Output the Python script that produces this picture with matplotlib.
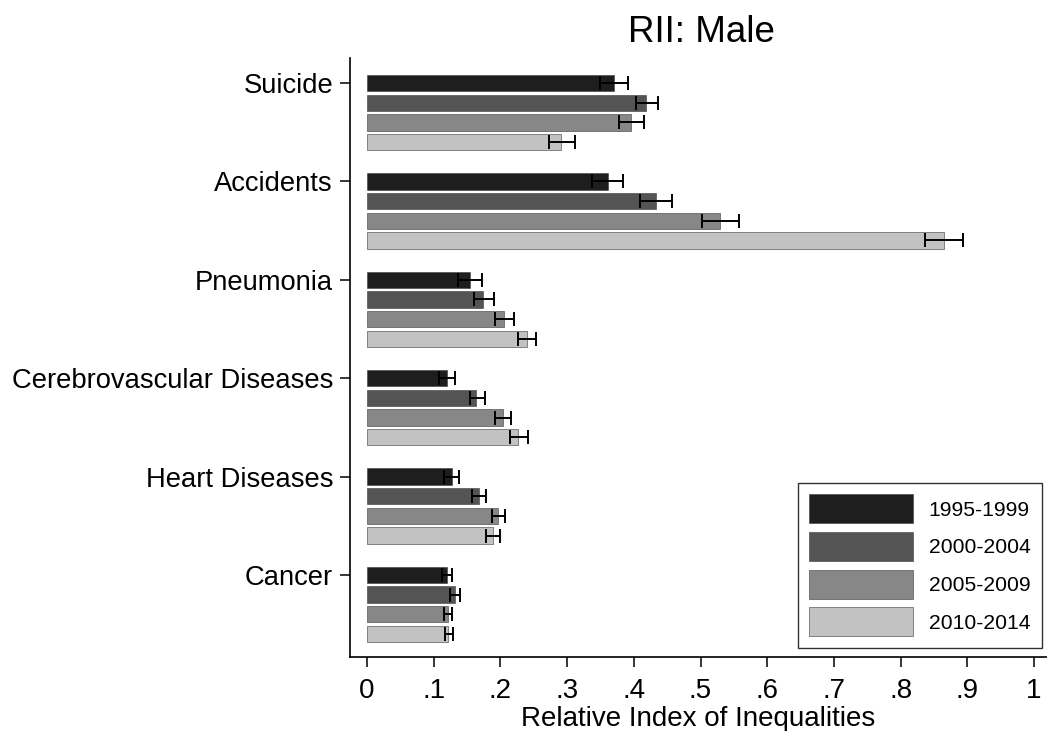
import numpy as np
import matplotlib
matplotlib.use('Agg')
import matplotlib.pyplot as plt

# causas e periodos
causes = ['Suicide', 'Accidents', 'Pneumonia', 'Cerebrovascular Diseases',
          'Heart Diseases', 'Cancer']
periods = ['1995-1999', '2000-2004', '2005-2009', '2010-2014']

# RII por causa (linhas) e periodo (colunas)
rii = [
    [0.370, 0.419, 0.396, 0.291],
    [0.361, 0.433, 0.529, 0.865],
    [0.154, 0.174, 0.206, 0.240],
    [0.120, 0.164, 0.204, 0.227],
    [0.127, 0.168, 0.196, 0.189],
    [0.120, 0.132, 0.121, 0.122],
]
ci_low = [
    [0.349, 0.403, 0.378, 0.273],
    [0.338, 0.409, 0.502, 0.837],
    [0.136, 0.160, 0.192, 0.226],
    [0.108, 0.154, 0.192, 0.215],
    [0.116, 0.158, 0.187, 0.179],
    [0.113, 0.125, 0.116, 0.117],
]
ci_high = [
    [0.391, 0.437, 0.415, 0.312],
    [0.384, 0.458, 0.557, 0.894],
    [0.172, 0.190, 0.220, 0.254],
    [0.132, 0.177, 0.216, 0.242],
    [0.138, 0.179, 0.207, 0.200],
    [0.127, 0.139, 0.127, 0.129],
]
xticks = [0, .1, .2, .3, .4, .5, .6, .7, .8, .9, 1]
xticklabels = ['0', '.1', '.2', '.3', '.4', '.5', '.6', '.7', '.8', '.9', '1']

cores = ['#1e1e1e', '#545454', '#878787', '#c2c2c2']

plt.rcParams['font.family'] = ['Liberation Sans', 'DejaVu Sans']

fig = plt.figure(figsize=(10.47, 7.31), dpi=100)
ax = fig.add_axes([350 / 1047, 1 - 657 / 731, 1 - 350 / 1047, (657 - 58) / 731])

rii = np.array(rii)
ci_low = np.array(ci_low)
ci_high = np.array(ci_high)

for j, per in enumerate(periods):
    ypos = np.arange(len(causes)) * 5 + j
    ax.barh(ypos, rii[:, j], height=0.83, color=cores[j], edgecolor='#3a3a3a',
            linewidth=0.4, label=per, zorder=2)
    err = [rii[:, j] - ci_low[:, j], ci_high[:, j] - rii[:, j]]
    ax.errorbar(rii[:, j], ypos, xerr=err, fmt='none', ecolor='black',
                elinewidth=1.4, capsize=5, capthick=1.4, zorder=3)

ax.set_yticks(np.arange(len(causes)) * 5)
ax.set_yticklabels(causes, fontsize=19.7)
ax.set_xticks(xticks)
ax.set_xticklabels(xticklabels, fontsize=20)
ax.set_xlim((350 - 367) / 667, (1047 - 367) / 667)
ax.set_ylim(29.17, -1.27)
ax.set_xlabel('Relative Index of Inequalities', fontsize=20, labelpad=1)

ax.spines['top'].set_visible(False)
ax.spines['right'].set_visible(False)
ax.spines['left'].set_linewidth(1.2)
ax.spines['bottom'].set_linewidth(1.2)
ax.tick_params(axis='both', length=7.2, width=1.1)
ax.tick_params(axis='y', pad=5)
ax.tick_params(axis='x', pad=8)

leg = ax.legend(loc='lower right', bbox_to_anchor=(1042 / 1047, 1 - 648 / 731),
                bbox_transform=fig.transFigure, borderaxespad=0, fontsize=15.2,
                fancybox=False, frameon=True, handlelength=4.9, handleheight=1.75,
                labelspacing=0.4, handletextpad=0.75, borderpad=0.55)
leg.get_frame().set_edgecolor('black')
leg.get_frame().set_linewidth(1.0)

fig.text(701 / 1047, 1 - 41.7 / 731, 'RII: Male', ha='center', va='baseline',
         fontsize=26.5)

fig.savefig('out.png', dpi=100)
